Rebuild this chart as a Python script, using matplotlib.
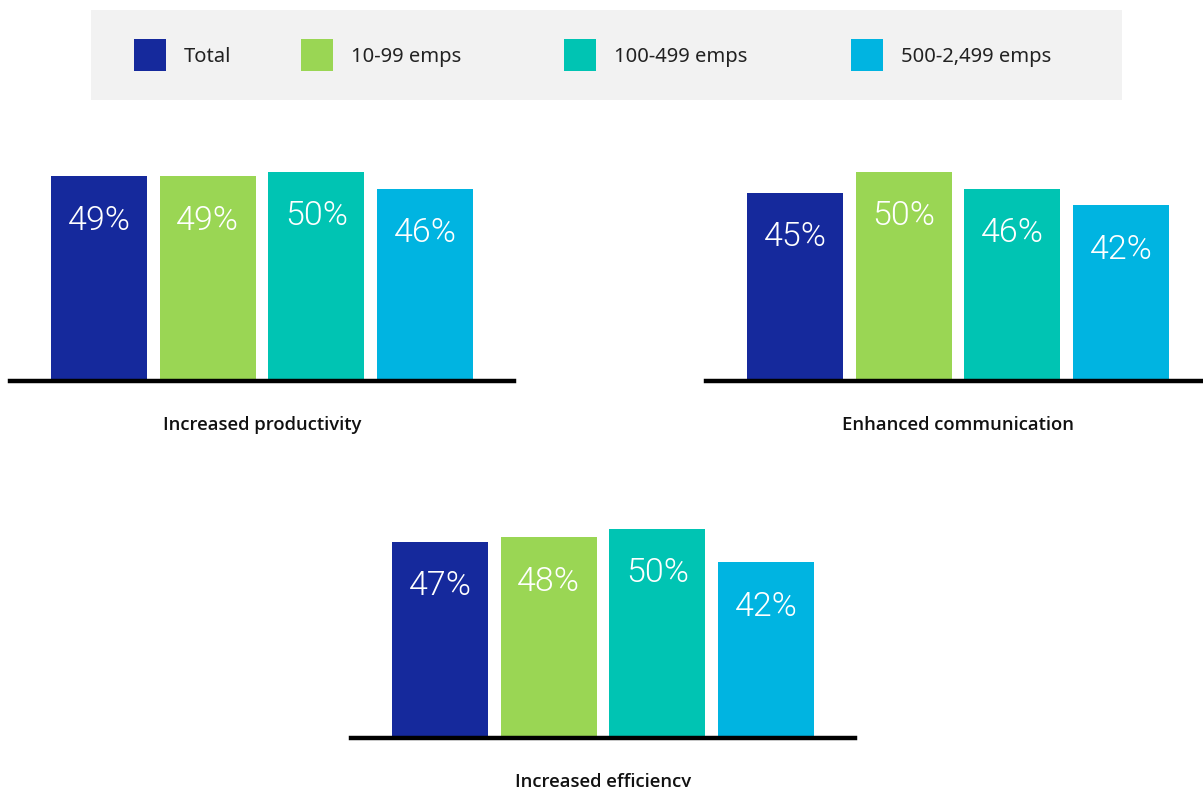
import matplotlib
matplotlib.use("Agg")
import matplotlib.pyplot as plt
from matplotlib.patches import Rectangle

plt.rcParams['font.family'] = ['Noto Sans', 'DejaVu Sans']

series = ["Total", "10-99 emps", "100-499 emps", "500-2,499 emps"]
colors = ["#15299c", "#9ad654", "#00c4b3", "#00b4e1"]

categories = ["Increased productivity", "Enhanced communication", "Increased efficiency"]
productivity = [49, 49, 50, 46]
communication = [45, 50, 46, 42]
efficiency = [47, 48, 50, 42]
values = [productivity, communication, efficiency]

W, H = 1203, 787
fig = plt.figure(figsize=(W / 100, H / 100), dpi=100)
fig.patch.set_facecolor("white")

# panel placements in pixels: (left, baseline_y)
panels = [(10, 381), (706, 381), (351, 738)]
ax_w_px = 504
ymax = 55
px_per_unit = 4.18
ax_h_px = ymax * px_per_unit

for (left, base), cat, vals in zip(panels, categories, values):
    ax = fig.add_axes([left / W, (H - base) / H, ax_w_px / W, ax_h_px / H])
    x = list(range(len(vals)))
    ax.bar(x, vals, width=0.885, color=colors, zorder=2)
    ax.set_xlim(-0.82, 3.82)
    ax.set_ylim(0, ymax)
    ax.axhline(0, color="black", lw=3.2, zorder=3, clip_on=False)
    for xi, v in zip(x, vals):
        ax.annotate(f"{v}%", (xi, v), xytext=(0, -32), textcoords="offset points",
                    ha="center", va="center", color="white", fontsize=24.5,
                    family=["Roboto", "DejaVu Sans"], fontweight=300)
    ax.annotate(cat, (0.5, 0), xycoords="axes fraction", xytext=(0, -31.5),
                textcoords="offset points", ha="center", va="center",
                fontsize=13.3, fontweight=600, color="#111111",
                family=["Open Sans", "DejaVu Sans"])
    ax.axis("off")

# legend
fig.patches.append(Rectangle((91 / W, 1 - 100 / H), (1122 - 91) / W, 90 / H,
                             transform=fig.transFigure, facecolor="#f2f2f2",
                             edgecolor="none", zorder=0))
sq_x = [134, 301, 564, 851]
for sx, name, c in zip(sq_x, series, colors):
    fig.patches.append(Rectangle((sx / W, 1 - 71 / H), 32 / W, 32 / H,
                                 transform=fig.transFigure, facecolor=c,
                                 edgecolor="none", zorder=1))
    fig.text((sx + 50) / W, 1 - 57 / H, name, ha="left", va="center",
             fontsize=14.5, color="#222222")

fig.savefig("out.png", dpi=100)
